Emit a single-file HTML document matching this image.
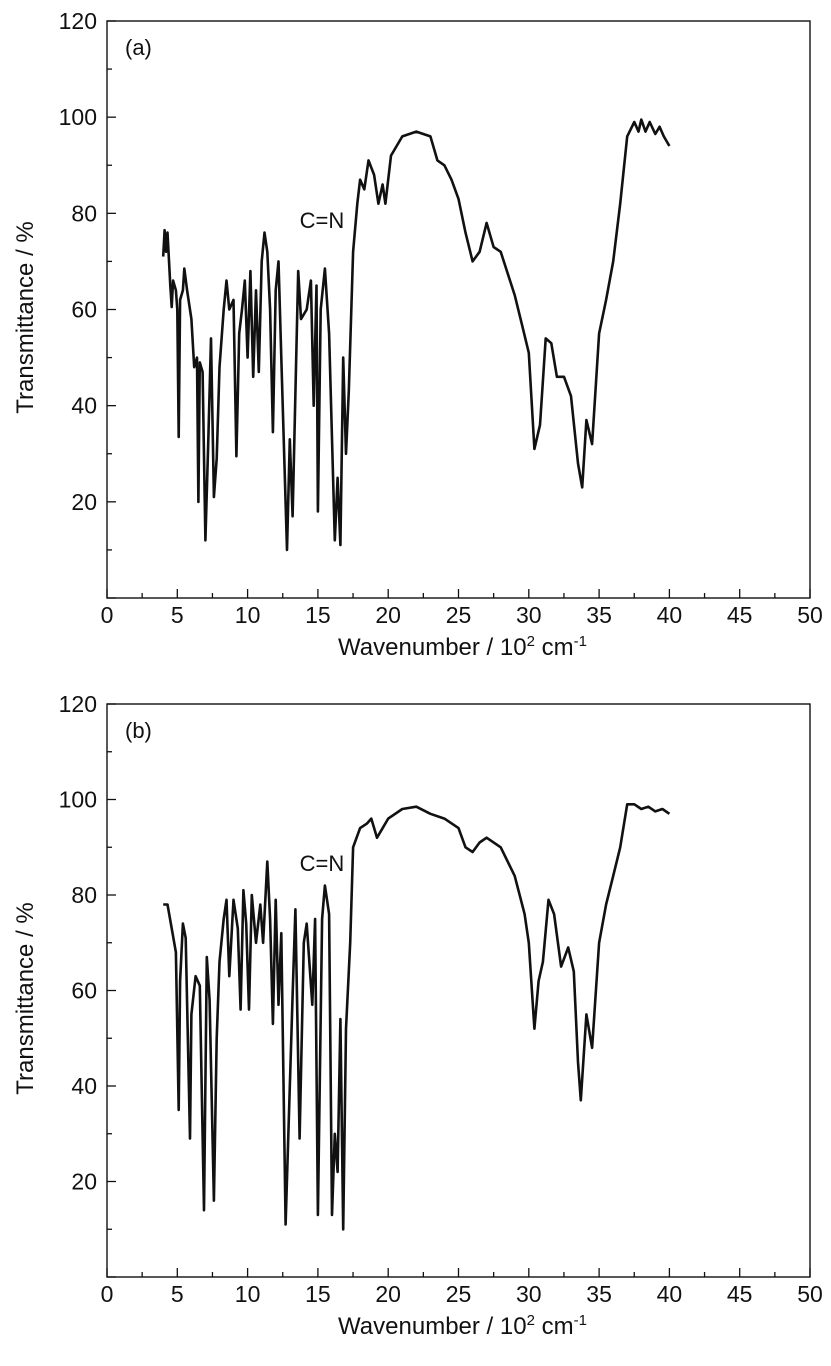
<!DOCTYPE html>
<html><head><meta charset="utf-8"><style>
html,body{margin:0;padding:0;background:#fff;}
svg text{font-family:"Liberation Sans",Arial,sans-serif;fill:#111;}
</style></head><body>
<svg id="s" width="831" height="1361" viewBox="0 0 831 1361" xmlns="http://www.w3.org/2000/svg"></svg>
<script>
const A=[[4.0,71],[4.1,76.5],[4.2,72],[4.3,76],[4.5,65],[4.6,60.5],[4.7,66],[4.9,64],[5.0,60],[5.1,33.5],[5.2,62],[5.4,64],[5.5,68.5],[5.7,64],[6.0,58],[6.2,48],[6.4,50],[6.5,20],[6.6,49],[6.8,47],[7.0,12],[7.2,32],[7.4,54],[7.6,21],[7.8,29],[8.0,48],[8.3,60],[8.5,66],[8.7,60],[9.0,62],[9.2,29.5],[9.4,55],[9.6,60],[9.8,66],[10.0,50],[10.2,68],[10.4,46],[10.6,64],[10.8,47],[11.0,70],[11.2,76],[11.4,72],[11.6,60],[11.8,34.5],[12.0,64],[12.2,70],[12.4,50],[12.8,10],[13.0,33],[13.2,17],[13.6,68],[13.8,58],[14.2,60],[14.5,66],[14.7,40],[14.9,65],[15.0,18],[15.2,60],[15.5,68.5],[15.8,55],[16.2,12],[16.4,25],[16.6,11],[16.8,50],[17.0,30],[17.2,43],[17.5,72],[17.8,82],[18.0,87],[18.3,85],[18.6,91],[19.0,88],[19.3,82],[19.6,86],[19.8,82],[20.2,92],[21,96],[22,97],[23,96],[23.5,91],[24,90],[24.5,87],[25,83],[25.5,76],[26,70],[26.5,72],[27,78],[27.5,73],[28,72],[29,63],[29.5,57],[30,51],[30.4,31],[30.8,36],[31.2,54],[31.6,53],[32,46],[32.5,46],[33,42],[33.5,28],[33.8,23],[34.1,37],[34.5,32],[35,55],[35.5,62],[36,70],[36.5,82],[37,96],[37.5,99],[37.8,97],[38,99.5],[38.3,97],[38.6,99],[39,96.5],[39.3,98],[39.6,96],[40,94]];
const B=[[4.0,78],[4.3,78],[4.6,73],[4.9,68],[5.1,35],[5.2,62],[5.4,74],[5.6,71],[5.9,29],[6.0,55],[6.3,63],[6.6,61],[6.9,14],[7.1,67],[7.3,58],[7.6,16],[7.8,50],[8.0,66],[8.3,75],[8.5,79],[8.7,63],[9.0,79],[9.3,73],[9.5,56],[9.7,81],[9.9,74],[10.1,56],[10.3,80],[10.6,70],[10.9,78],[11.1,70],[11.4,87],[11.6,75],[11.8,53],[12.0,79],[12.2,57],[12.4,72],[12.7,11],[13.2,59],[13.4,77],[13.7,29],[14.0,70],[14.2,74],[14.6,57],[14.8,75],[15.0,13],[15.3,75],[15.5,82],[15.8,76],[16.0,13],[16.2,30],[16.4,22],[16.6,54],[16.8,10],[17.0,52],[17.3,70],[17.5,90],[18.0,94],[18.5,95],[18.8,96],[19.2,92],[20,96],[21,98],[22,98.5],[23,97],[24,96],[25,94],[25.5,90],[26,89],[26.5,91],[27,92],[28,90],[29,84],[29.7,76],[30,70],[30.4,52],[30.7,62],[31,66],[31.4,79],[31.8,76],[32.3,65],[32.8,69],[33.2,64],[33.5,45],[33.7,37],[34.1,55],[34.5,48],[35,70],[35.5,78],[36,84],[36.5,90],[37,99],[37.5,99],[38,98],[38.5,98.5],[39,97.5],[39.5,98],[40,97]];
const s=document.getElementById('s');let h='';
const L=107,R=810;const X=x=>L+(R-L)*x/50;
function panel(top,bot,data,lab){
 const Y=v=>bot-(bot-top)*v/120;
 h+=`<rect x="${L}" y="${top}" width="${R-L}" height="${bot-top}" fill="none" stroke="#111" stroke-width="1.4"/>`;
 for(let i=0;i<=20;i++){const x=X(i*2.5);const len=i%2?5:9;h+=`<line x1="${x}" y1="${bot}" x2="${x}" y2="${bot-len}" stroke="#111" stroke-width="1.3"/>`;if(i%2==0)h+=`<text x="${x}" y="${bot+25}" font-size="23" text-anchor="middle">${i*2.5}</text>`;}
 for(let i=0;i<=12;i++){const y=Y(i*10);const len=i%2?5:9;h+=`<line x1="${L}" y1="${y}" x2="${L+len}" y2="${y}" stroke="#111" stroke-width="1.3"/>`;if(i%2==0&&i>0)h+=`<text x="${L-10}" y="${y+8}" font-size="23" text-anchor="end">${i*10}</text>`;}
 h+=`<polyline fill="none" stroke="#111" stroke-width="2.6" stroke-linejoin="round" points="${data.map(p=>X(p[0]).toFixed(1)+','+Y(p[1]).toFixed(1)).join(' ')}"/>`;
 h+=`<text x="${L+18}" y="${top+34}" font-size="22">${lab}</text>`;
 h+=`<text x="${X(13.7)}" y="${Y(data===A?77:85)}" font-size="22">C=N</text>`;
 h+=`<text x="${(L+R)/2+4}" y="${bot+57}" font-size="24" text-anchor="middle">Wavenumber / 10<tspan font-size="15" dy="-9">2</tspan><tspan dy="9"> cm</tspan><tspan font-size="15" dy="-9">-1</tspan></text>`;
 h+=`<text transform="translate(33,${(top+bot)/2+8}) rotate(-90)" font-size="24" text-anchor="middle">Transmittance / %</text>`;
}
panel(21,598,A,'(a)');panel(704,1277,B,'(b)');
s.innerHTML=h;
</script>
</body></html>
